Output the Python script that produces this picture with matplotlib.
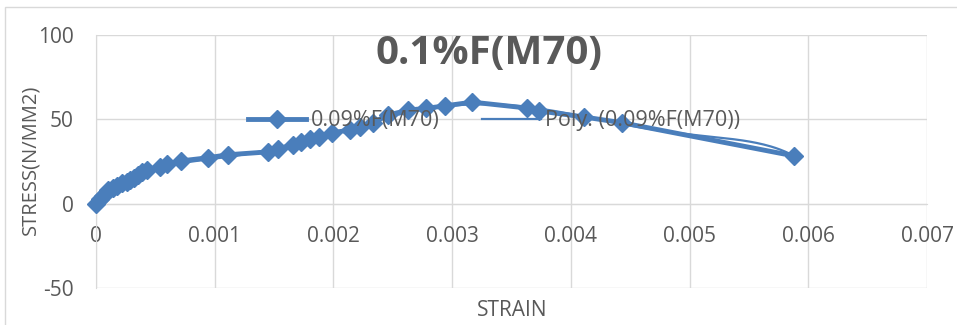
import numpy as np
import matplotlib
matplotlib.use("Agg")
import matplotlib.pyplot as plt
from matplotlib.patches import Rectangle
from matplotlib.lines import Line2D

plt.rcParams['font.family'] = ['Open Sans', 'DejaVu Sans']
plt.rcParams['axes.unicode_minus'] = False

strain = [0, 0.00003, 0.00006, 0.0001, 0.00014, 0.00018, 0.00022, 0.00026, 0.00029,
          0.00032, 0.00035, 0.00039, 0.00043, 0.00054, 0.0006, 0.00072, 0.00094,
          0.00111, 0.00145, 0.00153, 0.00166, 0.00173, 0.0018, 0.00188, 0.00199,
          0.00214, 0.00222, 0.00233, 0.00246, 0.00263, 0.00278, 0.00294, 0.00317,
          0.00363, 0.00373, 0.00411, 0.00443, 0.00588]
stress = [0, 2.5, 4.5, 8.3, 9.5, 10.5, 12, 13, 14,
          15.5, 17, 18.5, 20, 22, 23.6, 25.4, 27.2,
          29, 30.7, 32.5, 34.8, 36.6, 38.5, 39.6, 42,
          43.7, 45.5, 47.8, 52.5, 55.5, 56.5, 58, 60.2,
          56.7, 55, 51.4, 48, 28.3]

title = "0.1%F(M70)"
series_name = "0.09%F(M70)"
trend_name = "Poly. (0.09%F(M70))"
xlabel = "STRAIN"
ylabel = "STRESS(N/MM2)"
xticks = [0, 0.001, 0.002, 0.003, 0.004, 0.005, 0.006, 0.007]
xticklabels = ["0", "0.001", "0.002", "0.003", "0.004", "0.005", "0.006", "0.007"]
yticks = [-50, 0, 50, 100]

W, H = 957, 325
fig = plt.figure(figsize=(W / 100, H / 100), dpi=100)
fig.patches.append(Rectangle((5 / W, -0.1), 1.2, 1 - 7 / H + 0.1, transform=fig.transFigure,
                             fill=False, edgecolor='#d9d9d9', linewidth=1.0))
ax = fig.add_axes([96 / W, 1 - 288 / H, (927 - 96) / W, (288 - 35) / H])

color = '#4a7ebb'
grid_c = '#d9d9d9'
text_c = '#595959'

ax.set_xlim(0, 0.007)
ax.set_ylim(-50, 100)
ax.set_xticks(xticks)
ax.set_xticklabels(xticklabels)
ax.set_yticks(yticks)
ax.grid(True, color=grid_c, linewidth=1.0)
ax.set_axisbelow(True)
for s in ['top', 'right']:
    ax.spines[s].set_visible(False)
ax.spines['left'].set_color(grid_c)
ax.spines['bottom'].set_color(grid_c)
ax.spines['bottom'].set_position(('data', 0))
ax.tick_params(axis='both', length=0, labelsize=15, colors=text_c)
ax.tick_params(axis='x', pad=16)
ax.tick_params(axis='y', pad=16)

x = np.array(strain)
y = np.array(stress)
xk = x * 1000
coef = np.polyfit(xk, y, 6)
xs = np.linspace(xk.min(), xk.max(), 300)
ax.plot(xs / 1000, np.polyval(coef, xs), color=color, linewidth=1.6, zorder=3)
ax.plot(strain, stress, color=color, linewidth=3.5, marker='D', markersize=9,
        zorder=4, clip_on=False)

fig.text(512 / W, 1 - 311 / H, xlabel, ha='center', va='center', fontsize=15, color=text_c)
fig.text(30 / W, 1 - 160 / H, ylabel, ha='center', va='center', rotation=90, fontsize=14.5, color=text_c)

fig.text(489 / W, 1 - 54 / H, title, ha='center', va='center', fontsize=29,
         fontweight='bold', color=text_c)

handles = [Line2D([], [], color=color, linewidth=3.5, marker='D', markersize=9),
           Line2D([], [], color=color, linewidth=1.6)]
leg = ax.legend(handles, [series_name, trend_name], loc='center', ncol=2,
                bbox_to_anchor=(494 / W, 1 - 121 / H), bbox_transform=fig.transFigure,
                frameon=False, fontsize=15.5, handlelength=2.7, columnspacing=2.0,
                handletextpad=0.2, labelcolor=text_c)
leg.set_zorder(5)

fig.savefig("out.png", dpi=100)
